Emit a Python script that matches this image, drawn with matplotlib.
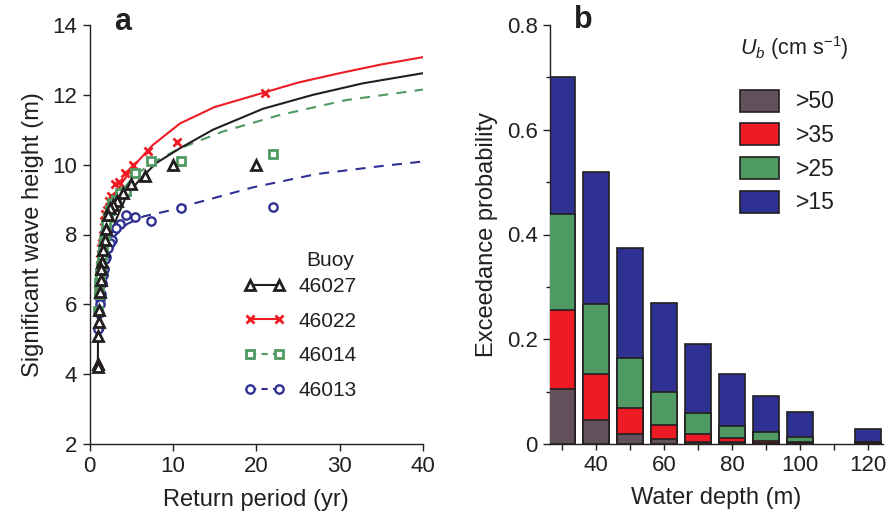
import matplotlib

matplotlib.use("Agg")

import matplotlib.pyplot as plt
from matplotlib.lines import Line2D
from matplotlib.patches import Patch
from matplotlib.ticker import MultipleLocator, FixedLocator, FuncFormatter

plt.rcParams["font.family"] = ["Liberation Sans", "DejaVu Sans"]
plt.rcParams["mathtext.fontset"] = "custom"
plt.rcParams["mathtext.rm"] = "Liberation Sans"
plt.rcParams["mathtext.it"] = "Liberation Sans:italic"

TEXT = "#231f20"
RED = "#ed1c24"
GREEN = "#4f9a62"
BLUE = "#2e3192"
MAUVE = "#62505c"

# ---- panel a: return periods (yr) and wave heights (m) ----
buoys = ["46027", "46022", "46014", "46013"]

t_46027 = [20, 10, 6.67, 5.0, 4.0, 3.33, 2.86, 2.5, 2.22, 2.0, 1.82, 1.67, 1.54, 1.43,
           1.33, 1.25, 1.18, 1.11, 1.05, 1.0, 1.0]
h_46027 = [10.0, 10.0, 9.68, 9.44, 9.2, 8.95, 8.85, 8.75, 8.55, 8.15, 7.85, 7.55, 7.2, 7.0,
           6.7, 6.35, 5.85, 5.5, 5.1, 4.3, 4.2]

t_46022 = [21, 10.5, 7.0, 5.25, 4.2, 3.5, 3.0, 2.63, 2.33, 2.1, 1.91, 1.75, 1.62, 1.5,
           1.4, 1.31, 1.24, 1.17, 1.11, 1.05]
h_46022 = [12.05, 10.65, 10.4, 10.0, 9.75, 9.5, 9.45, 9.1, 8.95, 8.7, 8.6, 8.4, 8.0, 7.75,
           7.6, 7.3, 7.05, 6.8, 6.6, 6.4]

t_46014 = [22, 11, 7.33, 5.5, 4.4, 3.67, 3.14, 2.75, 2.44, 2.2, 2.0, 1.83, 1.69, 1.57,
           1.47, 1.38, 1.29, 1.22, 1.16, 1.1, 1.05]
h_46014 = [10.3, 10.1, 10.1, 9.75, 9.25, 9.2, 9.0, 8.9, 8.7, 8.5, 8.3, 8.0, 7.8, 7.65,
           7.4, 7.1, 6.9, 6.8, 6.6, 6.3, 5.8]

t_46013 = [22, 11, 7.33, 5.5, 4.4, 3.67, 3.14, 2.75, 2.44, 2.2, 2.0, 1.83, 1.69, 1.57,
           1.47, 1.38, 1.29, 1.22, 1.16, 1.1, 1.05]
h_46013 = [8.8, 8.75, 8.4, 8.5, 8.55, 8.3, 8.2, 7.85, 7.75, 7.6, 7.35, 7.3, 7.0, 6.85,
           6.6, 6.3, 6.15, 6.0, 5.75, 5.35, 5.3]

# fitted curves
fit_t_46027 = [1.0, 1.02, 1.05, 1.1, 1.2, 1.38, 1.78, 2.37, 3.18, 4.38, 5.97, 7.97, 10.85,
               14.8, 20.8, 26.8, 32.8, 40]
fit_h_46027 = [4.22, 5.0, 5.5, 5.95, 6.4, 6.8, 7.37, 7.84, 8.42, 9.08, 9.56, 10.04, 10.47,
               11.0, 11.6, 12.0, 12.33, 12.62]

fit_t_46022 = [0.8, 1.0, 1.38, 1.98, 2.78, 3.98, 5.58, 7.58, 10.85, 15, 20, 25, 30, 35, 40]
fit_h_46022 = [6.35, 7.05, 7.75, 8.42, 8.99, 9.51, 10.04, 10.56, 11.18, 11.65, 12.0, 12.35,
               12.62, 12.87, 13.08]

fit_t_46014 = [1.0, 1.1, 1.3, 1.6, 2.0, 2.8, 4.0, 5.5, 7.5, 10.85, 12.25, 16, 22.8, 30.8, 40]
fit_h_46014 = [5.8, 6.6, 7.3, 7.8, 8.25, 8.8, 9.3, 9.7, 10.05, 10.47, 10.6, 10.95, 11.42,
               11.85, 12.15]

fit_t_46013 = [1.0, 1.1, 1.25, 1.5, 2.0, 3.0, 4.5, 6.5, 9.5, 11.5, 19.6, 27.2, 35, 40]
fit_h_46013 = [5.3, 6.0, 6.5, 6.95, 7.45, 7.95, 8.3, 8.52, 8.68, 8.82, 9.35, 9.73, 9.96, 10.09]

# ---- panel b: exceedance probability by water depth (no data at 110 m) ----
depth = [30, 40, 50, 60, 70, 80, 90, 100, 120]
p_gt15 = [0.70, 0.52, 0.375, 0.27, 0.19, 0.134, 0.092, 0.062, 0.029]
p_gt25 = [0.44, 0.268, 0.165, 0.10, 0.059, 0.035, 0.022, 0.013, 0.004]
p_gt35 = [0.255, 0.133, 0.069, 0.036, 0.019, 0.011, 0.006, 0.003, 0.003]
p_gt50 = [0.105, 0.045, 0.019, 0.01, 0.004, 0.003, 0.002, 0.001, 0.002]
speed_labels = [">50", ">35", ">25", ">15"]

fig = plt.figure(figsize=(8.95, 5.27), dpi=100, facecolor="white")

W, H = 895.0, 527.0
ax1 = fig.add_axes([89.5 / W, 83 / H, 333.5 / W, 419 / H])
ax2 = fig.add_axes([550 / W, 83 / H, 333 / W, 419 / H])

for ax in (ax1, ax2):
    for s in ("top", "right"):
        ax.spines[s].set_visible(False)
    for s in ("left", "bottom"):
        ax.spines[s].set_linewidth(1.0)
        ax.spines[s].set_color(TEXT)
    ax.tick_params(direction="out", length=5, width=1.0, color=TEXT, labelsize=16,
                   labelcolor=TEXT, pad=4)

# panel a
dash = (4.8, 4.0)
ax1.plot(fit_t_46013, fit_h_46013, color=BLUE, lw=1.5, dashes=dash)
ax1.plot(fit_t_46014, fit_h_46014, color=GREEN, lw=1.5, dashes=dash)
ax1.plot(fit_t_46022, fit_h_46022, color=RED, lw=1.5)
ax1.plot(fit_t_46027, fit_h_46027, color=TEXT, lw=1.5)

mk_blue = dict(marker="o", ms=6, mfc="white", mec=BLUE, mew=1.7)
mk_red = dict(marker="x", ms=6, color=RED, mew=2.0)
mk_green = dict(marker="s", ms=5.5, mfc="white", mec=GREEN, mew=2.0)
mk_black = dict(marker="^", ms=6.5, mfc="white", mec=TEXT, mew=2.0)

ax1.plot(t_46013, h_46013, ls="none", **mk_blue)
ax1.plot(t_46022, h_46022, ls="none", **mk_red)
ax1.plot(t_46014, h_46014, ls="none", **mk_green)
ax1.plot(t_46027, h_46027, ls="none", **mk_black)

ax1.set_xlim(0, 40)
ax1.set_ylim(2, 14)
ax1.xaxis.set_major_locator(MultipleLocator(10))
ax1.yaxis.set_major_locator(MultipleLocator(2))
ax1.set_xlabel("Return period (yr)", fontsize=17, color=TEXT, labelpad=8)
ax1.set_ylabel("Significant wave height (m)", fontsize=17, color=TEXT, labelpad=6)

handles = [
    Line2D([], [], color=TEXT, lw=1.5, **mk_black),
    Line2D([], [], lw=1.5, **mk_red),
    Line2D([], [], color=GREEN, lw=1.5, dashes=(3, 2.5), **mk_green),
    Line2D([], [], color=BLUE, lw=1.5, dashes=(3, 2.5), **mk_blue),
]
leg1 = ax1.legend(handles, buoys, frameon=False, fontsize=15, numpoints=2,
                  handlelength=2.0, handletextpad=0.6, labelspacing=0.75,
                  loc="center left", bbox_to_anchor=(244 / W, 1 - 338.5 / H),
                  bbox_transform=fig.transFigure, borderpad=0, borderaxespad=0)
for t in leg1.get_texts():
    t.set_color(TEXT)
fig.text(354 / W, 1 - 260 / H, "Buoy", fontsize=15, color=TEXT, ha="right", va="center")

# panel b
bw = 7.8
ec = TEXT
ax2.bar(depth, p_gt15, width=bw, color=BLUE, edgecolor=ec, linewidth=1.2, zorder=2)
ax2.bar(depth, p_gt25, width=bw, color=GREEN, edgecolor=ec, linewidth=1.2, zorder=3)
ax2.bar(depth, p_gt35, width=bw, color=RED, edgecolor=ec, linewidth=1.2, zorder=4)
ax2.bar(depth, p_gt50, width=bw, color=MAUVE, edgecolor=ec, linewidth=1.2, zorder=5)

ax2.set_xlim(26.4, 124.4)
ax2.set_ylim(0, 0.8)
ax2.xaxis.set_major_locator(FixedLocator([40, 60, 80, 100, 120]))
ax2.xaxis.set_minor_locator(FixedLocator([30, 50, 70, 90, 110]))
ax2.yaxis.set_major_locator(FixedLocator([0, 0.2, 0.4, 0.6, 0.8]))
ax2.yaxis.set_minor_locator(FixedLocator([0.1, 0.3, 0.5, 0.7]))
ax2.yaxis.set_major_formatter(FuncFormatter(lambda v, p: f"{v:g}"))
ax2.tick_params(axis="x", which="both", length=4, width=1.0, color=TEXT)
ax2.tick_params(axis="y", which="minor", length=3, width=1.0, color=TEXT)
ax2.set_xlabel("Water depth (m)", fontsize=17, color=TEXT, labelpad=8)
ax2.set_ylabel("Exceedance probability", fontsize=17, color=TEXT, labelpad=6)

patches = [Patch(facecolor=c, edgecolor=ec, linewidth=1.2) for c in (MAUVE, RED, GREEN, BLUE)]
leg2 = ax2.legend(patches, speed_labels, frameon=False,
                  fontsize=16.5, handlelength=1.7, handleheight=1.1,
                  handletextpad=0.75, labelspacing=0.43, loc="center left",
                  bbox_to_anchor=(740 / W, 1 - 152 / H), bbox_transform=fig.transFigure,
                  borderpad=0, borderaxespad=0)
for t in leg2.get_texts():
    t.set_color(TEXT)
fig.text(740 / W, 1 - 48 / H, "$U_b$ (cm s$^{-1}$)", fontsize=15.5, color=TEXT,
         ha="left", va="center")

fig.text(123 / W, 1 - 22 / H, "a", fontsize=22, fontweight="bold", color=TEXT,
         ha="center", va="center")
fig.text(583 / W, 1 - 20 / H, "b", fontsize=22, fontweight="bold", color=TEXT,
         ha="center", va="center")

fig.savefig("out.png", dpi=100, facecolor="white")
